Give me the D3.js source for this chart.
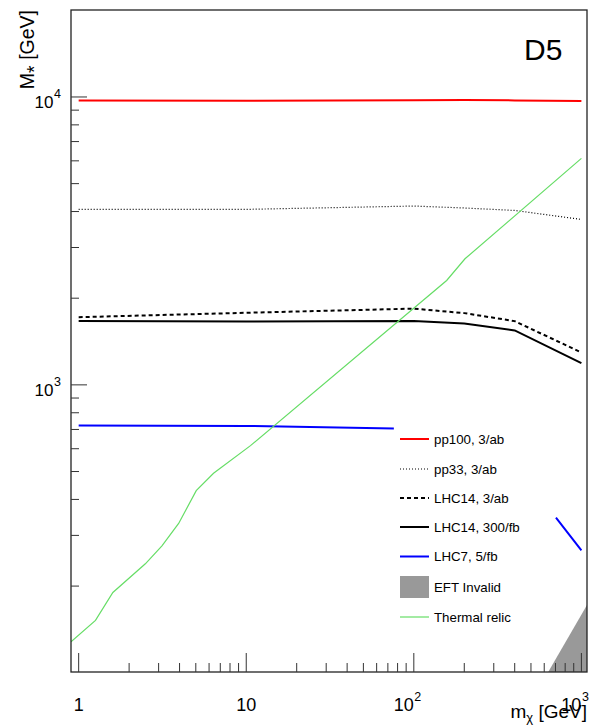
<!DOCTYPE html>
<html>
<head>
<meta charset="utf-8">
<script src="https://cdn.jsdelivr.net/npm/d3@7"></script>
<style>
  body { margin: 0; background: #fff; }
  svg { display: block; font-family: "Liberation Sans", Arial, Helvetica, sans-serif; }
</style>
</head>
<body>
<svg id="chart"></svg>
<script>
// values
const massPoints = [1, 10, 100, 200, 400, 1000];
const pp100 = [9730, 9700, 9740, 9760, 9730, 9680];
const pp33 = [4070, 4070, 4180, 4115, 4035, 3755];
const lhc14ab = [1718, 1780, 1840, 1775, 1665, 1295];
const lhc14fb = [1665, 1660, 1665, 1635, 1545, 1190];
const lhc7Mass = [1, 10, 76, null, 705, 1000];
const lhc7 = [722, 720, 706, null, 346, 266];
const relicMass = [0.9, 1.26, 1.6, 2.5, 3.14, 3.95, 5.03, 6.38, 10.6, 157, 202, 1000];
const relicM = [128, 152, 190, 239, 276, 330, 429, 493, 615, 2304, 2741, 6120];
const eftMass = [630, 1080, 1080];
const eftM = [100, 172, 100];

const xLabels = [[1, "1", ""], [10, "10", ""], [100, "10", "2"], [1000, "10", "3"]];
const yLabels = [[1000, "10", "3"], [10000, "10", "4"]];

const width = 592;
const height = 728;
const margin = { top: 10, right: 5, bottom: 56, left: 71 };

const svg = d3.select("#chart").attr("width", width).attr("height", height);

const x = d3.scaleLog().domain([0.9, 1080]).range([margin.left, width - margin.right]);
const y = d3.scaleLog().domain([100.6, 20050]).range([height - margin.bottom, margin.top]);

svg.append("defs").append("clipPath").attr("id", "plotClip")
  .append("rect")
  .attr("x", margin.left).attr("y", margin.top)
  .attr("width", width - margin.left - margin.right)
  .attr("height", height - margin.top - margin.bottom);

const plot = svg.append("g").attr("clip-path", "url(#plotClip)");

// EFT invalid region
plot.append("path")
  .attr("d", d3.line().x((d, i) => x(eftMass[i])).y((d, i) => y(eftM[i]))(eftM) + "Z")
  .attr("fill", "#999999");

const series = [
  { xs: massPoints, ys: pp100, color: "#ff0000", w: 2, dash: null, label: "pp100, 3/ab" },
  { xs: massPoints, ys: pp33, color: "#000000", w: 1.2, dash: "1,2", label: "pp33, 3/ab" },
  { xs: massPoints, ys: lhc14ab, color: "#000000", w: 2, dash: "4,3", label: "LHC14, 3/ab" },
  { xs: massPoints, ys: lhc14fb, color: "#000000", w: 2, dash: null, label: "LHC14, 300/fb" },
  { xs: lhc7Mass, ys: lhc7, color: "#0000ff", w: 2, dash: null, label: "LHC7, 5/fb" },
  { xs: relicMass, ys: relicM, color: "#66dd66", w: 1.2, dash: null, label: "Thermal relic" }
];

series.forEach((s) => {
  const line = d3.line()
    .defined((d, i) => s.xs[i] != null && d != null)
    .x((d, i) => x(s.xs[i]))
    .y((d) => y(d));
  plot.append("path")
    .attr("d", line(s.ys))
    .attr("fill", "none")
    .attr("stroke", s.color)
    .attr("stroke-width", s.w)
    .attr("stroke-dasharray", s.dash);
});

// frame
svg.append("rect")
  .attr("x", margin.left).attr("y", margin.top)
  .attr("width", width - margin.left - margin.right)
  .attr("height", height - margin.top - margin.bottom)
  .attr("fill", "none").attr("stroke", "#222").attr("stroke-width", 1.3);

const isMajor = (t) => Math.abs(Math.log10(t) - Math.round(Math.log10(t))) < 1e-9;
const yBottom = height - margin.bottom;

// x ticks (inside, pointing up)
const xTicks = x.ticks().filter((t) => t > 0.95 && t <= 1080);
svg.selectAll(".xTick").data(xTicks).join("line")
  .attr("class", "xTick")
  .attr("x1", (d) => x(d)).attr("x2", (d) => x(d))
  .attr("y1", yBottom).attr("y2", (d) => yBottom - (isMajor(d) ? 19 : 9))
  .attr("stroke", "#333").attr("stroke-width", 1);

// y ticks (inside, pointing right)
const yTicks = y.ticks().filter((t) => t > 101 && t < 20000);
svg.selectAll(".yTick").data(yTicks).join("line")
  .attr("class", "yTick")
  .attr("x1", margin.left).attr("x2", (d) => margin.left + (isMajor(d) ? 16 : 8))
  .attr("y1", (d) => y(d)).attr("y2", (d) => y(d))
  .attr("stroke", "#333").attr("stroke-width", 1);

// x tick labels
xLabels.forEach(([v, base, sup]) => {
  const px = x(v);
  if (!sup) {
    svg.append("text").attr("x", px).attr("y", 711).attr("text-anchor", "middle")
      .attr("font-size", 18).text(base);
  } else {
    svg.append("text").attr("x", px).attr("y", 711).attr("text-anchor", "end")
      .attr("font-size", 18).text(base);
    svg.append("text").attr("x", px + 0.5).attr("y", 701).attr("text-anchor", "start")
      .attr("font-size", 12.5).text(sup);
  }
});

// y tick labels
yLabels.forEach(([v, base, sup]) => {
  const py = y(v);
  svg.append("text").attr("x", 53.5).attr("y", py + 11).attr("text-anchor", "end")
    .attr("font-size", 17).text(base);
  svg.append("text").attr("x", 54).attr("y", py + 1).attr("text-anchor", "start")
    .attr("font-size", 12.5).text(sup);
});

// axis titles
const xTitle = svg.append("text").attr("x", 587).attr("y", 718)
  .attr("text-anchor", "end").attr("font-size", 19);
xTitle.append("tspan").text("m");
xTitle.append("tspan").attr("font-size", 13).attr("dy", 4).text("χ");
xTitle.append("tspan").attr("dy", -4).text(" [GeV]");

const yTitle = svg.append("text")
  .attr("transform", "translate(34,10) rotate(-90)")
  .attr("text-anchor", "end").attr("font-size", 19.5);
yTitle.append("tspan").text("M");
yTitle.append("tspan").attr("font-size", 19.5).attr("dy", 7).text("*");
yTitle.append("tspan").attr("dy", -7).text(" [GeV]");

// D5 label
svg.append("text").attr("x", 524).attr("y", 60).attr("font-size", 30).text("D5");

// legend
const legendX = 400;
const legendRows = [439, 469, 498, 527, 556.5, 587, 617];
const legendItems = [
  series[0], series[1], series[2], series[3], series[4],
  { box: true, color: "#999999", label: "EFT Invalid" },
  series[5]
];
legendItems.forEach((s, i) => {
  const cy = legendRows[i];
  if (s.box) {
    svg.append("rect").attr("x", legendX).attr("y", cy - 11)
      .attr("width", 29).attr("height", 22).attr("fill", s.color);
  } else {
    svg.append("line")
      .attr("x1", legendX).attr("x2", legendX + 29)
      .attr("y1", cy).attr("y2", cy)
      .attr("stroke", s.color).attr("stroke-width", s.w)
      .attr("stroke-dasharray", s.dash);
  }
  svg.append("text").attr("x", 434).attr("y", cy + 4.8)
    .attr("font-size", 13.3).text(s.label);
});
</script>
</body>
</html>
